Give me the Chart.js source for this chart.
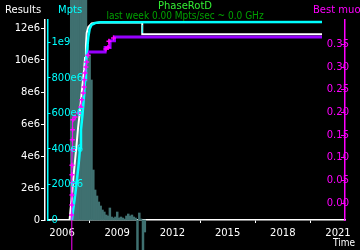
<!DOCTYPE html>
<html>
<head>
<meta charset="utf-8">
<script src="https://cdn.jsdelivr.net/npm/chart.js@4.4.0/dist/chart.umd.min.js"></script>
<style>
  html, body { margin: 0; padding: 0; background: #000; }
  #wrap { width: 360px; height: 250px; }
</style>
</head>
<body>
<div id="wrap"><canvas id="myChart" width="360" height="250"></canvas></div>
<script>
// times are decimal years
let resultsTime = [2006.41, 2006.46, 2006.52, 2006.57, 2006.63, 2006.71, 2006.79, 2006.87, 2006.95, 2007.03, 2007.11, 2007.20, 2007.25, 2007.30, 2007.34, 2007.43, 2007.61, 2008.07, 2010.36, 2010.36, 2020.13];
let results = [0, 0.63e6, 1.25e6, 2.0e6, 2.81e6, 3.75e6, 4.69e6, 5.75e6, 6.56e6, 7.5e6, 8.44e6, 9.38e6, 10.13e6, 10.94e6, 11.69e6, 12.06e6, 12.28e6, 12.34e6, 12.34e6, 11.61e6, 11.61e6];

let mptsTime = [2006.54, 2006.60, 2006.68, 2006.76, 2006.82, 2006.90, 2006.98, 2007.03, 2007.11, 2007.20, 2007.25, 2007.30, 2007.36, 2007.43, 2007.50, 2007.60, 2007.79, 2008.07, 2020.13];
let mpts = [0, 56e6, 113e6, 180e6, 236e6, 310e6, 405e6, 507e6, 591e6, 704e6, 788e6, 873e6, 957e6, 1030e6, 1075e6, 1098e6, 1109e6, 1113e6, 1115e6];

let muonTime = [2006.52, 2006.52, 2006.52, 2006.52, 2006.53, 2006.54, 2006.54, 2006.54, 2006.54, 2006.55, 2006.56, 2006.57, 2006.59, 2006.71, 2006.89, 2007.02, 2007.07, 2007.16, 2007.20, 2007.21, 2007.25, 2007.30, 2007.34, 2007.41, 2008.39, 2008.50, 2008.55, 2008.80];
let muon = [-0.2, -0.076, -0.054, -0.026, -0.004, 0.018, 0.045, 0.063, 0.084, 0.118, 0.140, 0.162, 0.184, 0.190, 0.199, 0.212, 0.228, 0.243, 0.256, 0.272, 0.287, 0.300, 0.311, 0.326, 0.340, 0.343, 0.357, 0.364];

let bestTime = [2007.41, 2008.34, 2008.61, 2008.85, 2020.13];
let bestMuon = [0.333, 0.343, 0.358, 0.366, 0.366];

let markTime = [2010.36];
let markMpts = [1.075e9];

// rate histogram, arbitrary units
let histTime = [2006.5, 2006.6, 2006.7, 2006.8, 2006.9, 2007.0, 2007.1, 2007.2, 2007.3, 2007.4, 2007.5, 2007.6, 2007.7, 2007.8, 2007.9, 2008.0, 2008.1, 2008.2, 2008.3, 2008.4, 2008.5, 2008.6, 2008.7, 2008.8, 2008.9, 2009.0, 2009.1, 2009.2, 2009.3, 2009.4, 2009.5, 2009.6, 2009.7, 2009.8, 2009.9, 2010.0, 2010.1, 2010.2, 2010.3, 2010.4, 2010.5];
let histRate = [300, 300, 300, 300, 300, 300, 300, 300, 300, 175, 165, 140, 50, 30, 24, 18, 14, 10, 8, 5, 4, 12, 3, 2, 3, 8, 2, 3, 2, 1, 4, 6, 4, 5, 3, 2, -40, 7, 1, -40, -12];

let yearTicks = [2006, 2009, 2012, 2015, 2018, 2021];
let resultsTicks = [0, 2e6, 4e6, 6e6, 8e6, 10e6, 12e6];
let mptsTicks = [0, 200e6, 400e6, 600e6, 800e6, 1e9];
let muonTicks = [0, 0.05, 0.10, 0.15, 0.20, 0.25, 0.30, 0.35];

function pts(xs, ys) {
  return xs.map((x, i) => ({ x: x, y: ys[i] }));
}
function setTicks(list) {
  return (s) => { s.ticks = list.map(v => ({ value: v })); };
}

const extras = {
  id: "extras",
  beforeDraw(chart) {
    const c = chart.ctx;
    c.save();
    c.fillStyle = "#000";
    c.fillRect(0, 0, chart.width, chart.height);
    c.restore();
  },
  afterDraw(chart) {
    const c = chart.ctx;
    c.save();
    c.textBaseline = "alphabetic";
    c.font = '10px "DejaVu Sans"';
    c.textAlign = "left";
    c.fillStyle = "#fff";
    c.fillText("Results", 5, 13);
    c.fillStyle = "#00ffff";
    c.fillText("Mpts", 58, 13);
    c.fillStyle = "#ff00ff";
    c.fillText("Best muon", 313, 13);
    c.textAlign = "center";
    c.fillStyle = "#33ee33";
    c.fillText("PhaseRotD", 185, 9);
    c.font = '10px "DejaVu Sans Condensed", "DejaVu Sans"';
    c.fillStyle = "#00a000";
    c.fillText("last week 0.00 Mpts/sec ~ 0.0 GHz", 185, 19);
    c.textAlign = "right";
    c.fillStyle = "#fff";
    c.fillText("Time", 355, 246);
    c.restore();
  },
};

Chart.defaults.font.family = "DejaVu Sans";
Chart.defaults.font.size = 10;

let ctx = document.getElementById("myChart").getContext("2d");
let myChart = new Chart(ctx, {
  type: "line",
  data: {
    datasets: [
      {
        type: "bar",
        data: pts(histTime, histRate),
        yAxisID: "yRate",
        backgroundColor: "#3f7070",
        barPercentage: 1,
        categoryPercentage: 1,
        clip: false,
        order: 6,
      },
      {
        data: pts(resultsTime, results),
        yAxisID: "yResults",
        borderColor: "#ffffff",
        borderWidth: 2,
        pointRadius: 0,
        order: 5,
      },
      {
        data: pts(mptsTime, mpts),
        yAxisID: "yMpts",
        borderColor: "#00ffff",
        borderWidth: 2.5,
        pointRadius: 0,
        order: 4,
      },
      {
        data: pts(bestTime, bestMuon),
        yAxisID: "yMuon",
        borderColor: "#9600ff",
        borderWidth: 3,
        stepped: "before",
        pointRadius: 0,
        order: 3,
      },
      {
        data: pts(muonTime, muon),
        yAxisID: "yMuon",
        borderColor: "#ff00ff",
        borderWidth: 1,
        segment: {
          borderColor: (s) => (s.p1.parsed.x - s.p0.parsed.x < 0.05 ? "#ff00ff" : "transparent"),
        },
        pointStyle: "cross",
        pointRadius: 2.5,
        pointBorderWidth: 1.5,
        pointBorderColor: "#ff00ff",
        clip: false,
        order: 2,
      },
      {
        data: pts(markTime, markMpts),
        yAxisID: "yMpts",
        showLine: false,
        pointStyle: "line",
        rotation: 90,
        pointRadius: 4,
        pointBorderWidth: 1,
        pointBorderColor: "#00ffff",
        order: 1,
      },
    ],
  },
  options: {
    responsive: false,
    animation: false,
    events: [],
    layout: { padding: { top: 20, left: 0, right: 0, bottom: 0 } },
    plugins: {
      legend: { display: false },
      tooltip: { enabled: false },
    },
    scales: {
      x: {
        type: "linear",
        min: 2005.21,
        max: 2021.38,
        offset: false,
        afterBuildTicks: setTicks(yearTicks),
        afterFit: (s) => { s.height = 30; },
        ticks: { color: "#fff", padding: 4, maxRotation: 0, autoSkip: false, callback: (v) => String(v) },
        grid: { drawOnChartArea: false, color: "#fff", tickLength: 3 },
        border: { color: "#fff", width: 1.5 },
      },
      yResults: {
        axis: "y",
        position: "left",
        weight: 2,
        min: 0,
        max: 12.5e6,
        afterBuildTicks: setTicks(resultsTicks),
        afterFit: (s) => { s.width = 45; },
        ticks: { color: "#fff", padding: 1, callback: (v) => (v === 0 ? "0" : Math.round(v / 1e6) + "e6") },
        grid: { drawOnChartArea: false, color: "#fff", tickLength: 4 },
        border: { color: "#fff", width: 1.5 },
      },
      yMpts: {
        axis: "y",
        position: "left",
        weight: 1,
        min: 0,
        max: 1.1261e9,
        afterBuildTicks: setTicks(mptsTicks),
        afterFit: (s) => { s.width = 2.5; },
        ticks: {
          z: 1,
          color: "#00ffff",
          mirror: true,
          padding: 4,
          callback: (v) => (v === 0 ? "0" : v >= 1e9 ? Math.round(v / 1e9) + "e9" : Math.round(v / 1e6) + "e6"),
        },
        grid: { drawOnChartArea: false, color: "#00ffff", tickLength: -3 },
        border: { color: "#00ffff", width: 1.5 },
      },
      yMuon: {
        axis: "y",
        position: "right",
        min: -0.0368,
        max: 0.4037,
        afterBuildTicks: setTicks(muonTicks),
        afterFit: (s) => { s.width = 15; },
        ticks: { color: "#ff00ff", mirror: true, padding: 4, callback: (v) => v.toFixed(2) },
        grid: { drawOnChartArea: false, color: "#ff00ff", tickLength: -4 },
        border: { color: "#ff00ff", width: 1.5 },
      },
      yRate: {
        axis: "y",
        position: "right",
        display: false,
        min: 0,
        max: 200,
      },
    },
  },
  plugins: [extras],
});
</script>
</body>
</html>
